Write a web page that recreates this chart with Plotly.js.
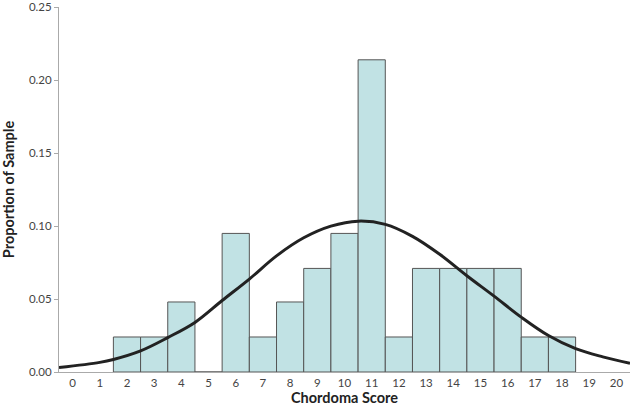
<!DOCTYPE html>
<html>
<head>
<meta charset="utf-8">
<script src="https://cdn.plot.ly/plotly-3.0.1.min.js"></script>
<style>
  html, body { margin: 0; padding: 0; background: #fff; }
  #chart { width: 630px; height: 411px; }
</style>
</head>
<body>
<div id="chart"></div>
<script>
// histogram: proportion of sample per chordoma score
const scores = [2, 3, 4, 5, 6, 7, 8, 9, 10, 11, 12, 13, 14, 15, 16, 17, 18];
const proportions = [0.024, 0.024, 0.048, 0, 0.095, 0.024, 0.048, 0.071, 0.095, 0.214,
                     0.024, 0.071, 0.071, 0.071, 0.071, 0.024, 0.024];

// fitted normal curve
const curveX = [-0.5, 1, 1.5, 2.5, 3.5, 4.5, 5.5, 6.5, 7.5, 8.5, 9.5, 10.5,
                11.5, 12.5, 13.5, 14.5, 15.5, 16.5, 17.5, 18.5, 19.5, 20.5];
const curveY = [0.003, 0.0066, 0.0086, 0.0145, 0.0236, 0.034, 0.049, 0.0637, 0.0796, 0.092,
                0.100, 0.1034, 0.1012, 0.093, 0.0807, 0.066, 0.052, 0.0376, 0.025, 0.016,
                0.0104, 0.006];

const xTicks = [0, 1, 2, 3, 4, 5, 6, 7, 8, 9, 10, 11, 12, 13, 14, 15, 16, 17, 18, 19, 20];
const yTicks = [0, 0.05, 0.10, 0.15, 0.20, 0.25];

const FONT = 'Lato, "DejaVu Sans", sans-serif';

const traces = [
    {
        x: scores, y: proportions, type: 'bar', width: 1,
        marker: { color: '#c1e2e4', line: { color: '#555', width: 1 } },
        hoverinfo: 'skip'
    },
    {
        x: curveX, y: curveY, type: 'scatter', mode: 'lines',
        line: { color: '#222', width: 3, shape: 'spline', smoothing: 1 },
        hoverinfo: 'skip'
    }
];

const layout = {
    width: 630, height: 411,
    paper_bgcolor: '#fff', plot_bgcolor: '#fff',
    margin: { t: 7, l: 59, r: 0, b: 39 },
    showlegend: false,
    bargap: 0,
    font: { family: FONT, color: '#444', size: 11.5 },
    xaxis: {
        range: [-0.5, 20.5],
        tickvals: xTicks,
        ticktext: xTicks.map(String),
        showgrid: false, zeroline: false,
        showline: true, linecolor: '#aaa', linewidth: 1,
        ticks: '', ticklen: 0,
        ticklabeloverflow: 'allow',
        title: { text: 'Chordoma Score', standoff: 5,
                 font: { size: 14.5, color: '#222', family: FONT, weight: 'bold' } }
    },
    yaxis: {
        range: [0, 0.2502],
        tickvals: yTicks,
        tickformat: '.2f',
        showgrid: false, zeroline: false,
        showline: true, linecolor: '#aaa', linewidth: 1,
        ticks: 'outside', ticklen: 4, tickcolor: '#aaa',
        ticklabeloverflow: 'allow',
        title: { text: 'Proportion of Sample', standoff: 10,
                 font: { size: 14.5, color: '#222', family: FONT, weight: 'bold' } }
    }
};

Plotly.newPlot('chart', traces, layout, { displayModeBar: false, staticPlot: true });
</script>
</body>
</html>
